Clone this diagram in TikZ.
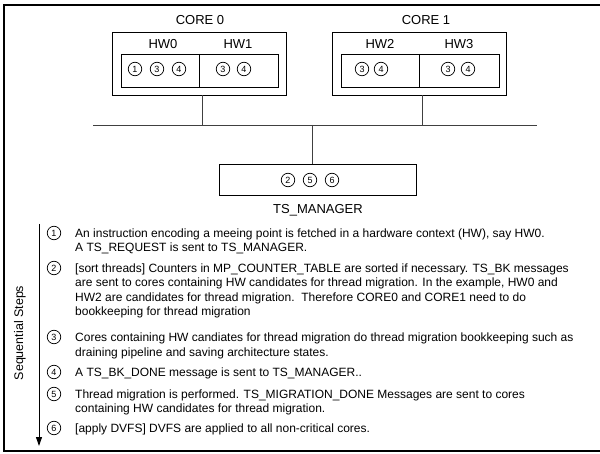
\documentclass[tikz,border=0pt]{standalone}
\usepackage{fontspec}
\setmainfont{Liberation Sans}
\usetikzlibrary{arrows.meta}
\tikzset{
  box/.style={draw, line width=0.9pt, inner sep=0pt},
  lbl/.style={font=\fontsize{13}{15}\selectfont, inner sep=0pt},
  num/.style={circle, draw, line width=0.7pt, minimum size=13.5pt, inner sep=0pt, font=\fontsize{9}{9}\selectfont},
  steptext/.style={anchor=north west, inner sep=0pt, align=left, font=\fontsize{12}{14.5}\selectfont},
  wire/.style={line width=0.9pt, draw=black!75},
}
\begin{document}
\begin{tikzpicture}[x=1pt,y=-1pt]
\useasboundingbox (0,0) rectangle (600,454);
% outer frame (open on the right)
\draw[line width=1.2pt] (600,5) -- (4,5) -- (4,451) -- (600,451);

% CORE 0
\node[lbl] (c0lbl) at (200,20) {CORE 0};
\node[box, minimum width=174pt, minimum height=63pt] (core0) at (199,63.5) {};
\node[lbl] (hw0lbl) at (163,44) {HW0};
\node[lbl] (hw1lbl) at (238,44) {HW1};
\node[box, minimum width=157pt, minimum height=33pt] (in0) at (199.5,70.5) {};
\draw[line width=0.9pt] (199,54) -- (199,87);
\node[num] (a1) at (135,69) {1};
\node[num] (a3) at (157,69) {3};
\node[num] (a4) at (179,69) {4};
\node[num] (b3) at (223,69) {3};
\node[num] (b4) at (244,69) {4};

% CORE 1
\node[lbl] (c1lbl) at (426,20) {CORE 1};
\node[box, minimum width=174pt, minimum height=63pt] (core1) at (419,63.5) {};
\node[lbl] (hw2lbl) at (380,44) {HW2};
\node[lbl] (hw3lbl) at (459,44) {HW3};
\node[box, minimum width=158pt, minimum height=33pt] (in1) at (420,70.5) {};
\draw[line width=0.9pt] (419,54) -- (419,87);
\node[num] (c3) at (362,69) {3};
\node[num] (c4) at (381,69) {4};
\node[num] (d3) at (448,69) {3};
\node[num] (d4) at (468,69) {4};

% bus
\coordinate (busL) at (93,125);
\coordinate (busR) at (537,125);
\draw[wire] (busL) -- (busR);
\draw[wire] (core0.south -| 202,0) -- (202,125);
\draw[wire] (core1.south -| 422,0) -- (422,125);

% TS_MANAGER
\node[box, minimum width=197pt, minimum height=31pt] (tsm) at (317.5,179.5) {};
\draw[wire] (312,125) -- (tsm.north -| 312,0);
\node[num] (m2) at (288,180) {2};
\node[num] (m5) at (310,180) {5};
\node[num] (m6) at (332,180) {6};
\node[lbl] (tslbl) at (318,210) {TS\_MANAGER};

% sequential steps arrow
\coordinate (arTop) at (39,224);
\coordinate (arBot) at (39,446);
\draw[line width=1pt, -{Triangle[length=9pt,width=6pt]}] (arTop) -- (arBot);
\node[lbl, rotate=90, font=\fontsize{12.5}{14}\selectfont] (seq) at (20,333) {Sequential Steps};

% steps
\node[num] (s1) at (54,233) {1};
\node[steptext] (t1) at (75,227.15) {\strut An instruction encoding a meeing point is fetched in a hardware context (HW), say HW0.\\A TS\_REQUEST is sent to TS\_MANAGER.};
\node[num] (s2) at (54,268) {2};
\node[steptext] (t2) at (75,262.15) {\strut [sort threads] Counters in MP\_COUNTER\_TABLE are sorted if necessary. TS\_BK messages\\are sent to cores containing HW candidates for thread migration. In the example, HW0 and\\HW2 are candidates for thread migration.\ \ Therefore CORE0 and CORE1 need to do\\bookkeeping for thread migration};
\node[num] (s3) at (54,337) {3};
\node[steptext] (t3) at (75,331.15) {\strut Cores containing HW candiates for thread migration do thread migration bookkeeping such as\\draining pipeline and saving architecture states.};
\node[num] (s4) at (54,372) {4};
\node[steptext] (t4) at (75,366.15) {\strut A TS\_BK\_DONE message is sent to TS\_MANAGER..};
\node[num] (s5) at (54,394) {5};
\node[steptext] (t5) at (75,388.15) {\strut Thread migration is performed. TS\_MIGRATION\_DONE Messages are sent to cores\\containing HW candidates for thread migration.};
\node[num] (s6) at (54,428) {6};
\node[steptext] (t6) at (75,422.15) {\strut [apply DVFS] DVFS are applied to all non-critical cores.};
\end{tikzpicture}
\end{document}
